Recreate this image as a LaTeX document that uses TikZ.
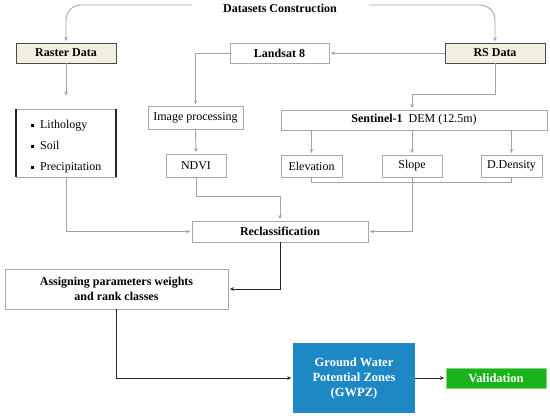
\documentclass[tikz,border=0pt]{standalone}
\usepackage{fontspec}
\setmainfont{Liberation Serif}
\usetikzlibrary{arrows.meta,calc}
\definecolor{lgray}{HTML}{A3A3A3}
\definecolor{bgray}{HTML}{A8A8A8}
\definecolor{dgray}{HTML}{4A4A4A}
\definecolor{beige}{HTML}{F3EFE1}
\definecolor{gwblue}{HTML}{1E88C4}
\definecolor{vgreen}{HTML}{1BB31B}
\definecolor{vgreenb}{HTML}{7FD67F}
\newcommand{\sqb}{\rule[0.15em]{3.6pt}{3.6pt}}
\begin{document}
\begin{tikzpicture}[x=1pt,y=-1pt,
  box/.style={draw=bgray, line width=0.8pt, fill=white, inner sep=0pt, minimum height=20pt, font=\fontsize{12}{14}\selectfont},
  bbox/.style={box, font=\bfseries\fontsize{12}{14}\selectfont},
  conn/.style={draw=lgray, line width=0.9pt, -{Stealth[length=4pt,width=3.6pt]}, shorten >=1.5pt},
  gline/.style={draw=lgray, line width=0.9pt},
  bconn/.style={draw=black!85, line width=1pt, -{Stealth[length=4pt,width=3.6pt]}, shorten >=1.5pt},
  titletext/.style={font=\bfseries\fontsize{12}{14}\selectfont, inner sep=0pt}
]
\useasboundingbox (0,0) rectangle (550,420);

% nodes
\node[titletext] (title) at (280,8) {Datasets Construction};
\node[bbox, draw=dgray, fill=beige, minimum width=100pt] (raster) at (66,53) {Raster Data};
\node[bbox, minimum width=99pt] (landsat) at (279.5,53) {Landsat 8};
\node[bbox, draw=dgray, fill=beige, minimum width=100pt] (rs) at (495,53) {RS Data};
\node[box, minimum width=100pt, minimum height=68pt, align=left, font=\fontsize{12}{21}\selectfont] (lith) at (66,143)
  {\rule{0pt}{16.5pt}\sqb\ \ Lithology\\ \sqb\ \ Soil\\ \sqb\ \ Precipitation};
\draw[line width=2pt, black!85] (lith.north west) -- (lith.south west);
\draw[line width=2pt, black!85] (lith.north east) -- (lith.south east);
\node[box, minimum width=95pt, minimum height=23pt] (ip) at (195.5,117.5) {Image processing};
\node[box, minimum width=60pt, minimum height=23pt] (ndvi) at (196,165.5) {NDVI};
\node[box, minimum width=266pt] (sent) at (414,120) {\textbf{Sentinel-1}\ \ DEM (12.5m)};
\node[box, minimum width=61pt, minimum height=22pt] (elev) at (311.5,166) {Elevation};
\node[box, minimum width=60pt, minimum height=22pt] (slope) at (412,166) {Slope};
\node[box, minimum width=61pt, minimum height=22pt] (dd) at (511.5,166) {D.Density};
\node[bbox, minimum width=176pt, minimum height=21pt] (recl) at (280,231.5) {Reclassification};
\node[bbox, minimum width=223pt, minimum height=40pt, align=center, font=\bfseries\fontsize{12}{15}\selectfont] (assign) at (116.5,289)
  {Assigning parameters weights\\and rank classes};
\node[fill=gwblue, text=white, inner sep=0pt, minimum width=122pt, minimum height=70pt, align=center, font=\bfseries\fontsize{12.5}{15}\selectfont] (gwpz) at (354,378)
  {Ground Water\\Potential Zones\\(GWPZ)};
\node[fill=vgreen, draw=vgreenb, line width=0.8pt, text=white, inner sep=0pt, minimum width=100pt, minimum height=20pt, font=\bfseries\fontsize{12.5}{14}\selectfont] (valid) at (496,378) {Validation};

% connectors
\coordinate (tl) at (192,5);
\coordinate (tr) at (369,5);
\coordinate (sbend) at (412,94);
\draw[conn, rounded corners=15pt] (tl) -| (raster.north);
\draw[conn, rounded corners=15pt] (tr) -| (rs.north);
\draw[conn, shorten >=13pt] (raster.south) -- (lith.north);
\draw[conn] (rs.west) -- (landsat.east);
\draw[conn] (landsat.west) -| (ip.north);
\draw[conn] (ip.south) -- (ndvi.north);
\draw[conn] (rs.south) |- (sbend) -- (slope.north |- sent.north);
\foreach \n in {elev,slope,dd} \draw[conn] (sent.south -| \n.north) -- (\n.north);
\draw[gline] (elev.south) -- ++(0,5) -| (dd.south);
\draw[conn] (slope.south) |- (recl.east);
\draw[conn] (lith.south) |- (recl.west);
\draw[conn] (ndvi.south) |- ($(recl.north)+(0,-24)$) -- (recl.north);
\draw[bconn] (recl.south) |- (assign.east);
\draw[bconn] (assign.south) |- (gwpz.west);
\draw[bconn] (gwpz.east) -- (valid.west);
\end{tikzpicture}
\end{document}
